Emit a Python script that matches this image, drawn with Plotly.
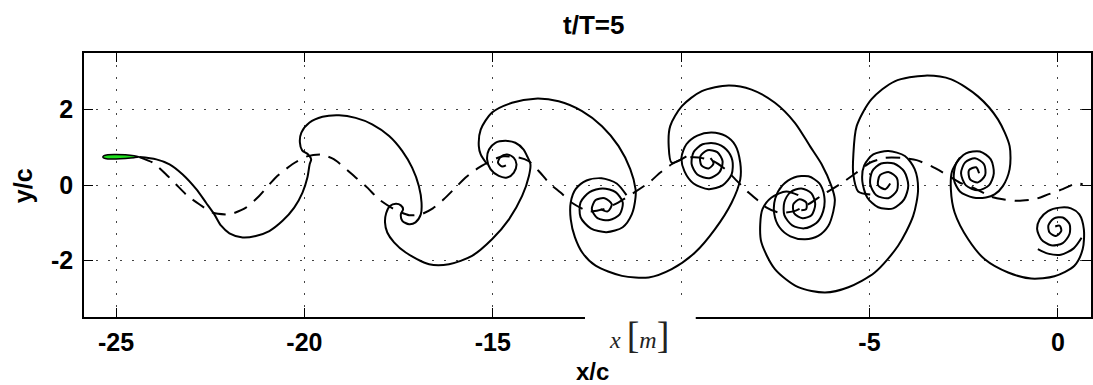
import plotly.graph_objects as go

# ---- axes (the -10 label sits under the unit box, so it is left blank) ----
x_ticks = [-25, -20, -15, -10, -5, 0]
x_tick_labels = ["-25", "-20", "-15", "", "-5", "0"]
y_ticks = [-2, 0, 2]
y_tick_labels = ["-2", "0", "2"]

# ---- airfoil (x/c, y/c) ----
foil_x = [-25.35, -25.32, -25.22, -25.00, -24.75, -24.52, -24.38, -24.52, -24.75, -25.00, -25.22, -25.32, -25.35]
foil_y = [0.745, 0.78, 0.805, 0.81, 0.80, 0.775, 0.745, 0.725, 0.705, 0.69, 0.69, 0.71, 0.745]

# ---- wake centre line (dashed) ----
centre_x = [-24.38, -24.02, -23.67, -23.41, -23.10, -22.79, -22.44, -21.99, -21.55, -21.20,
            -20.76, -20.32, -19.93, -19.56, -19.21, -18.64, -18.33, -18.02, -17.62, -17.22,
            -16.91, -16.59, -16.30, -15.99, -15.72, -15.37, -14.97, -14.71, -14.31, -14.04,
            -13.78, -13.47, -13.20, -12.90, -12.45, -12.06, -11.66, -11.23, -10.86, -10.55,
            -10.25, -9.89, -9.54, -9.14, -8.83, -8.52, -8.21, -7.95, -7.73, -7.42,
            -7.02, -6.62, -6.23, -5.96, -5.65, -5.34, -4.99, -4.59, -4.15, -3.75,
            -3.36, -2.96, -2.60, -2.25, -1.77, -1.46, -1.06, -0.62, -0.26, 0.13,
            0.48, 0.66]
centre_y = [0.74, 0.59, 0.28, 0.02, -0.29, -0.51, -0.73, -0.78, -0.60, -0.29,
            0.20, 0.55, 0.76, 0.81, 0.68, 0.20, -0.07, -0.38, -0.64, -0.80,
            -0.78, -0.62, -0.38, -0.07, 0.20, 0.46, 0.68, 0.76, 0.73, 0.63,
            0.37, 0.02, -0.20, -0.47, -0.70, -0.64, -0.46, -0.19, 0.06, 0.33,
            0.55, 0.72, 0.73, 0.63, 0.42, 0.11, -0.20, -0.42, -0.60, -0.73,
            -0.70, -0.51, -0.25, -0.09, 0.11, 0.33, 0.59, 0.72, 0.72, 0.66,
            0.50, 0.28, 0.06, -0.07, -0.31, -0.38, -0.42, -0.38, -0.25, -0.11,
            0.04, 0.02]

# ---- vortex sheet, trailing edge -> first curl -> vortex near x/c=-14.7 ----
sheet1_x = [-24.38, -23.93, -23.58, -23.23, -22.87, -22.61, -22.39, -22.21, -21.99, -21.64,
            -21.29, -20.93, -20.58, -20.27, -20.05, -19.92, -19.86, -19.82, -19.90, -20.06,
            -20.12, -20.08, -19.87, -19.52, -19.08, -18.64, -18.20, -17.75, -17.40, -17.14,
            -16.96, -16.89, -16.91, -17.05, -17.22, -17.40, -17.44, -17.38, -17.44, -17.57,
            -17.73, -17.83, -17.86, -17.80, -17.62, -17.31, -16.69, -16.16, -15.55, -15.02,
            -14.57, -14.22, -14.04, -14.00, -14.09, -14.18, -14.40, -14.66, -14.93, -15.10,
            -15.15, -15.06, -14.84, -14.62, -14.44, -14.37, -14.44, -14.62, -14.79, -14.86,
            -14.75, -14.65]
sheet1_y = [0.74, 0.68, 0.55, 0.28, -0.11, -0.47, -0.78, -1.08, -1.28, -1.39,
            -1.35, -1.22, -0.95, -0.60, -0.20, 0.20, 0.55, 0.68, 0.81, 0.92,
            1.13, 1.39, 1.65, 1.81, 1.85, 1.78, 1.61, 1.30, 0.90, 0.46,
            -0.03, -0.47, -0.78, -0.99, -1.04, -0.95, -0.78, -0.64, -0.54, -0.50,
            -0.56, -0.75, -0.99, -1.26, -1.52, -1.79, -2.10, -2.10, -1.88, -1.44,
            -0.91, -0.29, 0.24, 0.55, 0.77, 0.94, 1.12, 1.17, 1.12, 0.94,
            0.68, 0.42, 0.24, 0.20, 0.33, 0.55, 0.72, 0.81, 0.75, 0.59,
            0.49, 0.52]

# ---- upper lobe -> vortex near x/c=-12.1 ----
sheet2_x = [-15.15, -15.32, -15.37, -15.32, -15.02, -14.49, -13.87, -13.25, -12.63, -12.10,
            -11.66, -11.35, -11.21, -11.21, -11.31, -11.55, -11.98, -12.40, -12.67, -12.67,
            -12.43, -12.08, -11.74, -11.55, -11.63, -11.90, -12.22, -12.37, -12.27, -12.03,
            -11.84, -11.95, -12.14]
sheet2_y = [0.55, 0.81, 1.03, 1.47, 1.92, 2.18, 2.29, 2.22, 1.96, 1.56,
            1.03, 0.42, -0.11, -0.33, -0.78, -1.12, -1.25, -1.15, -0.85, -0.46,
            -0.19, -0.09, -0.19, -0.46, -0.78, -0.93, -0.88, -0.64, -0.40, -0.35,
            -0.51, -0.70, -0.64]

# ---- lower lobe -> vortex near x/c=-9.2 ----
sheet3_x = [-11.45, -11.71, -12.11, -12.51, -12.80, -12.93, -12.93, -12.82, -12.61, -12.27,
            -11.57, -10.86, -10.25, -9.63, -9.10, -8.66, -8.43, -8.43, -8.56, -8.82,
            -9.19, -9.57, -9.86, -9.99, -9.91, -9.67, -9.27, -8.90, -8.66, -8.64,
            -8.80, -9.09, -9.43, -9.67, -9.72, -9.57, -9.25, -8.98, -8.90, -9.04,
            -9.30, -9.49, -9.46, -9.27, -9.14, -9.22]
sheet3_y = [-0.27, 0.04, 0.18, 0.12, -0.11, -0.46, -0.91, -1.38, -1.81, -2.14,
            -2.41, -2.45, -2.23, -1.79, -1.17, -0.47, 0.15, 0.59, 1.05, 1.30,
            1.39, 1.31, 1.08, 0.73, 0.36, 0.04, -0.11, -0.01, 0.28, 0.65,
            0.94, 1.10, 1.08, 0.87, 0.55, 0.28, 0.18, 0.34, 0.63, 0.87,
            0.92, 0.76, 0.52, 0.44, 0.57, 0.71]

# ---- upper lobe -> vortex near x/c=-6.8 ----
sheet4_x = [-9.86, -10.25, -10.33, -10.29, -9.98, -9.45, -8.74, -8.13, -7.51, -6.98,
            -6.58, -6.27, -6.01, -5.92, -5.96, -6.09, -6.36, -6.71, -7.10, -7.39,
            -7.53, -7.50, -7.31, -7.00, -6.62, -6.33, -6.20, -6.23, -6.41, -6.73,
            -7.05, -7.26, -7.26, -7.10, -6.81, -6.54, -6.44, -6.54, -6.78, -7.00,
            -7.02, -6.86, -6.68, -6.68, -6.81]
sheet4_y = [0.76, 0.59, 1.03, 1.56, 2.09, 2.49, 2.64, 2.53, 2.18, 1.65,
            1.03, 0.55, -0.03, -0.38, -0.70, -1.08, -1.35, -1.44, -1.36, -1.12,
            -0.75, -0.35, -0.01, 0.20, 0.23, 0.04, -0.30, -0.70, -1.01, -1.15,
            -1.07, -0.80, -0.46, -0.19, -0.09, -0.22, -0.51, -0.80, -0.88, -0.75,
            -0.51, -0.38, -0.46, -0.64, -0.67]

# ---- lower lobe -> vortex near x/c=-4.6 ----
sheet5_x = [-6.89, -7.21, -7.60, -7.84, -7.90, -7.87, -7.51, -6.89, -6.18, -5.56,
            -4.86, -4.24, -3.84, -3.71, -3.80, -4.06, -4.50, -4.90, -5.14, -5.19,
            -5.06, -4.77, -4.37, -4.08, -3.97, -4.08, -4.35, -4.69, -4.93, -4.98,
            -4.82, -4.50, -4.27, -4.27, -4.48, -4.72, -4.77, -4.58, -4.45]
sheet5_y = [-0.27, -0.17, -0.33, -0.64, -1.04, -1.52, -2.23, -2.71, -2.85, -2.71,
            -2.32, -1.61, -0.82, -0.11, 0.42, 0.77, 0.90, 0.81, 0.52, 0.10,
            -0.33, -0.59, -0.62, -0.38, -0.01, 0.36, 0.57, 0.57, 0.36, 0.02,
            -0.27, -0.35, -0.14, 0.18, 0.34, 0.26, -0.01, -0.11, 0.04]

# ---- upper lobe -> vortex near x/c=-2.2 ----
sheet6_x = [-4.98, -5.30, -5.43, -5.43, -5.34, -4.95, -4.33, -3.53, -2.83, -2.12,
            -1.59, -1.28, -1.28, -1.46, -1.68, -1.91, -2.25, -2.60, -2.76, -2.70,
            -2.44, -2.07, -1.78, -1.70, -1.83, -2.12, -2.44, -2.57, -2.46, -2.20,
            -1.96, -1.93, -2.12, -2.33, -2.36, -2.17, -2.09]
sheet6_y = [-0.25, -0.17, 0.28, 0.77, 1.56, 2.27, 2.75, 2.90, 2.80, 2.35,
            1.74, 1.03, 0.42, -0.03, -0.25, -0.33, -0.33, -0.17, 0.15, 0.57,
            0.84, 0.89, 0.68, 0.31, -0.01, -0.14, -0.01, 0.31, 0.60, 0.71,
            0.55, 0.26, 0.07, 0.15, 0.39, 0.47, 0.31]

# ---- lower lobe -> starting vortex near x/c=0 ----
sheet7_x = [-2.60, -2.81, -2.84, -2.74, -2.38, -1.94, -1.32, -0.71, -0.09, 0.44,
            0.66, 0.69, 0.57, 0.35, 0.05, -0.26, -0.48, -0.55, -0.44, -0.18,
            0.13, 0.31, 0.31, 0.13, -0.11, -0.25, -0.22, -0.05, 0.09, 0.05,
            -0.07]
sheet7_y = [0.73, 0.36, -0.11, -0.73, -1.44, -1.97, -2.32, -2.48, -2.42, -2.14,
            -1.70, -1.17, -0.78, -0.62, -0.60, -0.69, -0.91, -1.17, -1.44, -1.60,
            -1.54, -1.30, -1.04, -0.86, -0.89, -1.07, -1.26, -1.35, -1.22, -1.08,
            -1.10]

# ---- outer tail of the starting vortex ----
tail_x = [-0.53, -0.26, 0.08, 0.42, 0.63]
tail_y = [-1.70, -1.82, -1.85, -1.68, -1.40]

FONT = "Arial, Liberation Sans, Helvetica, sans-serif"

fig = go.Figure()

fig.add_trace(go.Scatter(
    x=centre_x, y=centre_y, mode="lines",
    line=dict(color="black", width=2, dash="14px,9px", shape="spline", smoothing=0.6),
    hoverinfo="skip", showlegend=False))

for sx, sy in [(sheet1_x, sheet1_y), (sheet2_x, sheet2_y), (sheet3_x, sheet3_y),
               (sheet4_x, sheet4_y), (sheet5_x, sheet5_y), (sheet6_x, sheet6_y),
               (sheet7_x, sheet7_y), (tail_x, tail_y)]:
    fig.add_trace(go.Scatter(
        x=sx, y=sy, mode="lines",
        line=dict(color="black", width=2, shape="spline", smoothing=0.8),
        hoverinfo="skip", showlegend=False))

fig.add_trace(go.Scatter(
    x=foil_x, y=foil_y, mode="lines", fill="toself", fillcolor="#1ee01e",
    line=dict(color="black", width=1.5, shape="spline", smoothing=0.6),
    hoverinfo="skip", showlegend=False))

axis_common = dict(
    showline=True, linecolor="black", linewidth=1.5, mirror="allticks",
    ticks="inside", ticklen=9, tickwidth=1.3, tickcolor="black",
    showgrid=True, gridcolor="#444444", gridwidth=1, griddash="2px,10px",
    zeroline=False,
    tickfont=dict(family=FONT, size=25, color="black", weight="bold"),
)

fig.update_layout(
    width=1093, height=385,
    margin=dict(l=84, r=0, t=53, b=68),
    paper_bgcolor="white", plot_bgcolor="white",
    xaxis=dict(range=[-25.85, 0.88], tickvals=x_ticks, ticktext=x_tick_labels,
               ticklabelstandoff=2, **axis_common),
    yaxis=dict(range=[-3.5, 3.5], tickvals=y_ticks, ticktext=y_tick_labels,
               ticklabelstandoff=4, **axis_common),
    shapes=[dict(type="rect", xref="paper", yref="paper",
                 x0=0.4975, x1=0.6075, y0=-0.17, y1=0.064,
                 fillcolor="white", line=dict(width=0), layer="above")],
    annotations=[
        dict(text="t/T=5", xref="paper", yref="paper", x=0.5055, y=1.106,
             xanchor="center", yanchor="middle", showarrow=False,
             font=dict(family=FONT, size=26, color="black", weight="bold")),
        dict(text="x/c", xref="paper", yref="paper", x=0.5045, y=-0.205,
             xanchor="center", yanchor="middle", showarrow=False,
             font=dict(family=FONT, size=24, color="black", weight="bold")),
        dict(text="y/c", xref="paper", yref="paper", x=-0.0605, y=0.496,
             xanchor="center", yanchor="middle", showarrow=False, textangle=-90,
             font=dict(family=FONT, size=25, color="black", weight="bold")),
        dict(text="<i>x</i> <span style='font-size:38px'>[</span><i>m</i><span style='font-size:38px'>]</span>",
             xref="paper", yref="paper", x=0.551, y=-0.07,
             xanchor="center", yanchor="middle", showarrow=False,
             font=dict(family="Liberation Serif, Times New Roman, serif", size=24, color="#222222")),
    ],
)

fig.write_html("out.html")
